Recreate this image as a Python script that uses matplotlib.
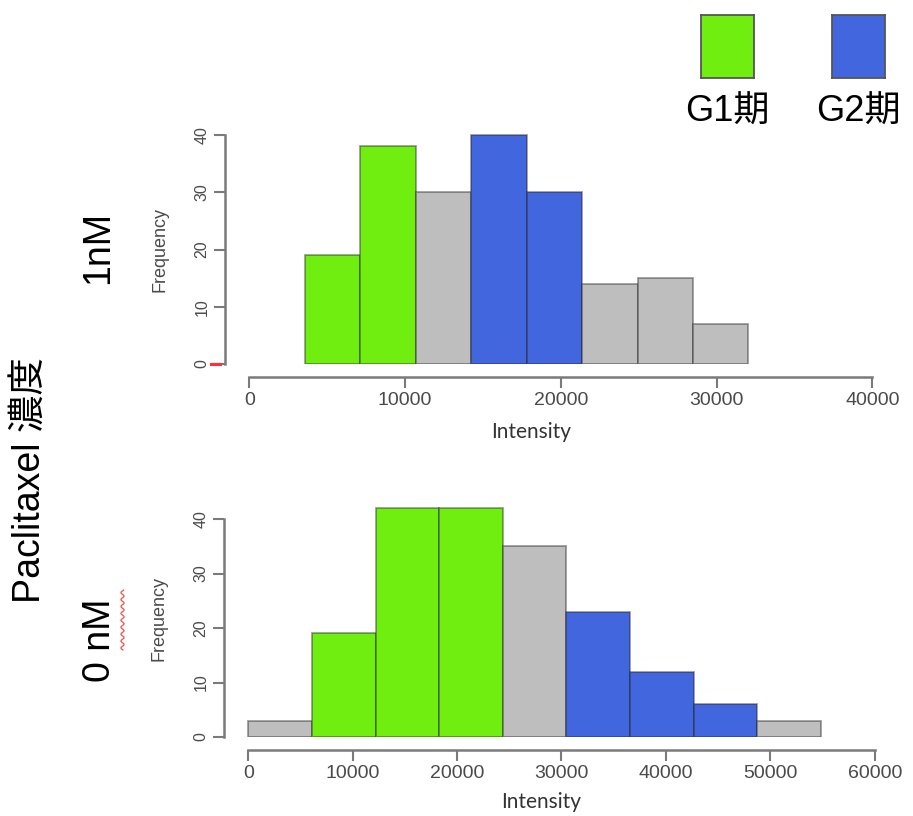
import numpy as np
import matplotlib
matplotlib.use("Agg")
import matplotlib.pyplot as plt
from matplotlib.lines import Line2D

plt.rcParams['font.family'] = ['Liberation Sans', 'Noto Sans CJK JP']

# 1nM histogram
top_edges = [3570, 7130, 10690, 14250, 17810, 21370, 24930, 28490, 32050]
top_counts = [19, 38, 30, 40, 30, 14, 15, 7]
top_phase = ['G1', 'G1', '-', 'G2', 'G2', '-', '-', '-']

# 0nM histogram
bot_edges = [0, 6095, 12190, 18285, 24380, 30475, 36570, 42665, 48760, 54855]
bot_counts = [3, 19, 42, 42, 35, 23, 12, 6, 3]
bot_phase = ['-', 'G1', 'G1', 'G1', '-', 'G2', 'G2', 'G2', '-']

top_xticks = [0, 10000, 20000, 30000, 40000]
bot_xticks = [0, 10000, 20000, 30000, 40000, 50000, 60000]
yticks = [0, 10, 20, 30, 40]

phase_colors = {'G1': '#70ee10', 'G2': '#4166de', '-': '#bebebe'}
axis_gray = '#7a7a7a'
text_gray = '#4a4a4a'

W, H = 913, 816
fig = plt.figure(figsize=(W / 100, H / 100), dpi=100)


def px_axes(left, top, right, bottom):
    return fig.add_axes([left / W, 1 - bottom / H, (right - left) / W, (bottom - top) / H])


def draw_hist(ax, edges, counts, phases, xticks, xlim, ylim, xlab_pos, ylab_y):
    edges = np.array(edges)
    cols = [phase_colors[p] for p in phases]
    ax.bar(edges[:-1], counts, width=np.diff(edges), align='edge', color=cols,
           edgecolor=(0.15, 0.15, 0.15, 0.45), linewidth=1.3)
    ax.set_xlim(*xlim)
    ax.set_ylim(*ylim)
    for s in ['top', 'right']:
        ax.spines[s].set_visible(False)
    ax.spines['bottom'].set_position(('outward', 9))
    ax.spines['bottom'].set_bounds(xticks[0], xticks[-1])
    ax.spines['left'].set_bounds(0, 40)
    for s in ['bottom', 'left']:
        ax.spines[s].set_color(axis_gray)
        ax.spines[s].set_linewidth(1.8)
    ax.set_xticks(xticks)
    ax.set_xticklabels([str(t) for t in xticks], fontsize=14)
    ax.set_yticks(yticks)
    ax.set_yticklabels([str(t) for t in yticks], fontsize=11.5, rotation=90, va='center')
    ax.tick_params(colors=axis_gray, labelcolor=text_gray, length=8, width=1.5, pad=3)
    ax.set_xlabel('Intensity', family='Lato', fontsize=15, color='#333333', va='center')
    ax.xaxis.set_label_coords(*xlab_pos)
    ax.set_ylabel('Frequency', fontsize=13, color=text_gray, va='center')
    ax.yaxis.set_label_coords(-0.098, ylab_y)


ax1 = px_axes(225, 125, 885, 364)
draw_hist(ax1, top_edges, top_counts, top_phase, top_xticks,
          (-1560, 40816), (0, 41.75), (0.4636, -0.2845), 0.477)

ax2 = px_axes(224, 500, 885, 737)
draw_hist(ax2, bot_edges, bot_counts, bot_phase, bot_xticks,
          (-2328, 60987), (0, 43.49), (0.4796, -0.274), 0.50)

# legend squares and labels
for x0, ph, lab in [(701, 'G1', 'G1期'), (832, 'G2', 'G2期')]:
    lax = px_axes(x0, 15, x0 + 53, 78)
    lax.set_facecolor(phase_colors[ph])
    lax.set_xticks([])
    lax.set_yticks([])
    for s in lax.spines.values():
        s.set_color('#555555')
        s.set_linewidth(1.3)
    fig.text((x0 + 26) / W, 1 - 112 / H, lab, fontsize=26, ha='center', va='center')

# left side labels
fig.text(30 / W, 1 - 480 / H, 'Paclitaxel 濃度', fontsize=27, rotation=90,
         ha='center', va='center')
fig.text(98 / W, 1 - 247 / H, '1nM', fontsize=27, rotation=90, ha='center', va='center')
fig.text(100 / W, 1 - 640 / H, '0 nM', fontsize=27, rotation=90, ha='center', va='center')

# red marks copied from the slide
fig.add_artist(Line2D([211 / W, 220 / W], [1 - 364 / H, 1 - 364 / H],
                      color='#ff3030', lw=2.2, transform=fig.transFigure))
wy = np.linspace(590, 650, 80)
wx = 122.5 + 1.6 * np.sin(wy / 1.1)
fig.add_artist(Line2D(wx / W, 1 - wy / H, color='#ee5050', lw=0.9,
                      transform=fig.transFigure))

fig.savefig('out.png', dpi=100)
